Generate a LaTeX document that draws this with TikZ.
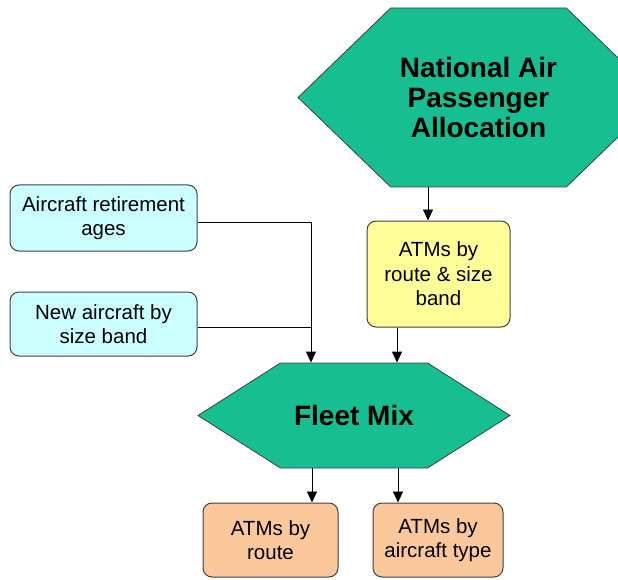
\documentclass[tikz,border=0pt]{standalone}
\usepackage{fontspec}
\setmainfont{Liberation Sans}
\usetikzlibrary{shapes,arrows.meta,positioning,calc}
\definecolor{HexGreen}{RGB}{22,190,145}
\definecolor{InputBlue}{RGB}{204,255,255}
\definecolor{FlowYellow}{RGB}{255,255,153}
\definecolor{OutOrange}{RGB}{250,200,155}
\definecolor{EdgeGrey}{RGB}{64,64,64}

\begin{document}
\begin{tikzpicture}[x=1pt, y=-1pt,
    hexbox/.style={shape=signal, signal to=west and east, draw=EdgeGrey, fill=HexGreen,
      line width=0.8pt, font=\fontsize{28}{30}\selectfont\bfseries, align=center, inner sep=0pt},
    databox/.style={rectangle, rounded corners=9pt, draw=EdgeGrey, line width=1pt,
      font=\fontsize{20.5}{24.5}\selectfont, align=center, inner sep=0pt},
    flow/.style={-{Triangle[length=11pt,width=10pt]}, line width=0.9pt}]
    \useasboundingbox (0,0) rectangle (618,580);
    \clip (0,0) rectangle (618,580);

    % the two models
    \node[hexbox, signal pointer angle=88, minimum width=361pt, minimum height=179pt]
      (napa) at (478.5,97.5) {National Air\\Passenger\\Allocation};
    \node[hexbox, signal pointer angle=65, minimum width=312pt, minimum height=105pt]
      (fleet) at (354,415.5) {Fleet Mix};

    % inputs
    \node[databox, fill=InputBlue, minimum width=187pt, minimum height=66pt]
      (retire) at (103.5,218) {Aircraft retirement\\ages};
    \node[databox, fill=InputBlue, minimum width=187pt, minimum height=64pt]
      (newac) at (103.5,324) {New aircraft by\\size band};
    \node[databox, fill=FlowYellow, minimum width=143pt, minimum height=106pt]
      (atmsize) at (438.5,274) {ATMs by\\route \& size\\band};

    % outputs
    \node[databox, fill=OutOrange, minimum width=135pt, minimum height=74pt]
      (route) at (270.5,540) {ATMs by\\route};
    \node[databox, fill=OutOrange, minimum width=130pt, minimum height=74pt]
      (actype) at (438,540) {ATMs by\\aircraft type};

    % connectors
    \coordinate (atmin) at ([xshift=-10.5pt]atmsize.north);
    \coordinate (atmout) at ([xshift=-41.5pt]atmsize.south);
    \coordinate (join) at ([xshift=-43pt]fleet.north);
    \coordinate (routein) at ([xshift=41.5pt]route.north);
    \coordinate (typein) at ([xshift=-40pt]actype.north);

    \draw[flow] (napa.south -| atmin) -- (atmin);
    \draw[flow] (atmout) -- (fleet.north -| atmout);
    \draw[flow] ([yshift=-4pt]retire.east) -| (join);
    \draw[line width=0.9pt] ([yshift=-3pt]newac.east) -- ([yshift=-3pt]newac.east -| join);
    \draw[flow] (fleet.south -| routein) -- (routein);
    \draw[flow] (fleet.south -| typein) -- (typein);
\end{tikzpicture}
\end{document}
